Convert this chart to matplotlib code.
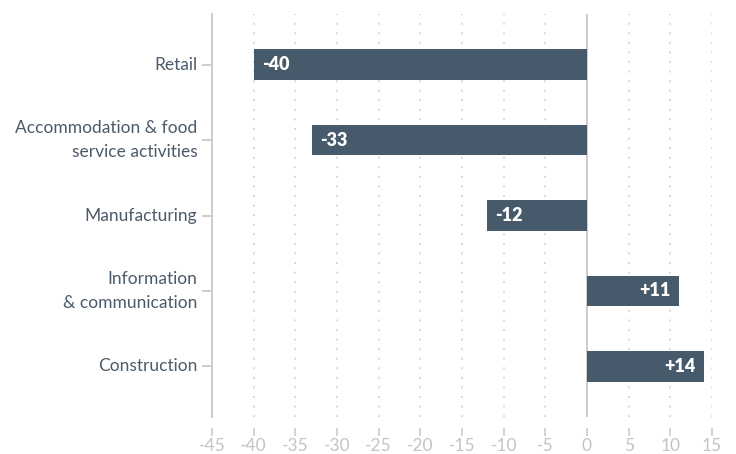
import matplotlib.pyplot as plt

plt.rcParams['font.family'] = ['Lato', 'DejaVu Sans']

sectors = ['Retail', 'Accommodation & food\nservice activities', 'Manufacturing',
           'Information\n& communication', 'Construction']
change = [-40, -33, -12, 11, 14]
xticks = list(range(-45, 20, 5))

bar_col = '#475a6b'
text_col = '#4b5b6b'
light = '#cccccc'

fig = plt.figure(figsize=(7.36, 4.54), dpi=100)
ax = fig.add_axes([212 / 736, 37 / 454, 500 / 736, 403 / 454])

ypos = list(range(len(sectors)))
ax.barh(ypos, change, height=0.4, color=bar_col, zorder=3)

for y, v in zip(ypos, change):
    lab = f'+{v}' if v > 0 else str(v)
    if v < 0:
        ax.text(v + 1.0, y, lab, ha='left', va='center', color='white',
                fontsize=13, fontweight='heavy', zorder=4)
    else:
        ax.text(v - 1.0, y, lab, ha='right', va='center', color='white',
                fontsize=13, fontweight='heavy', zorder=4)

ax.set_xlim(-45, 15)
ax.set_ylim(4.67, -0.67)
ax.set_xticks(xticks)
ax.set_xticklabels([str(t) for t in xticks], fontweight='light')
ax.set_yticks(ypos)
ax.set_yticklabels(sectors, linespacing=1.55, va='center')

# dotted grid and the zero line
for t in xticks[1:]:
    ax.axvline(t, color='#d4d4d4', linestyle=(0, (1, 4.3)), linewidth=1.3, zorder=1)
ax.axvline(0, color=light, linewidth=1.4, zorder=2)

for s in ['top', 'right', 'bottom']:
    ax.spines[s].set_visible(False)
ax.spines['left'].set_color(light)
ax.spines['left'].set_linewidth(1.4)
ax.spines['bottom'].set_position(('outward', 8))

ax.tick_params(axis='x', length=6, width=1.2, color=light, labelcolor='#c4c4c4',
               labelsize=12.5, pad=1)
ax.tick_params(axis='y', length=7, width=1.4, color=light, labelcolor=text_col,
               labelsize=12.5, pad=3.5)

fig.savefig('out.png', dpi=100)
